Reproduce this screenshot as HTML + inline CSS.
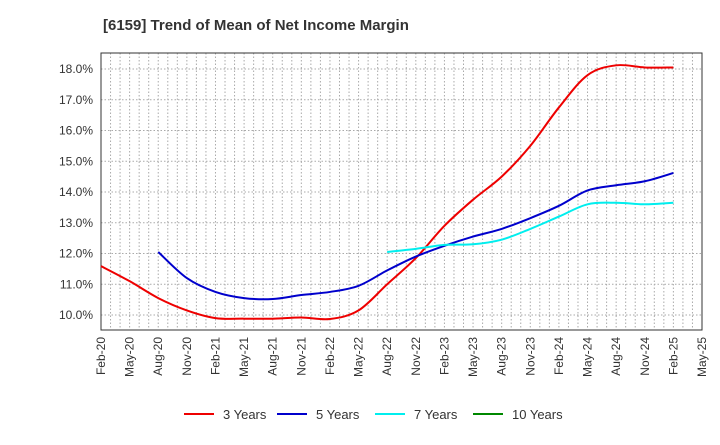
<!DOCTYPE html>
<html><head><meta charset="utf-8"><style>
body{margin:0;background:#fff;font-family:"Liberation Sans",sans-serif}
svg text{font-family:"Liberation Sans",sans-serif}
</style></head><body>
<svg id="c" width="720" height="440"></svg>
<script>
const xLabels=["Feb-20","May-20","Aug-20","Nov-20","Feb-21","May-21","Aug-21","Nov-21","Feb-22","May-22","Aug-22","Nov-22","Feb-23","May-23","Aug-23","Nov-23","Feb-24","May-24","Aug-24","Nov-24","Feb-25","May-25"];
const yTicks=[10,11,12,13,14,15,16,17,18];
const s3=[11.59,11.1,10.55,10.15,9.9,9.88,9.88,9.92,9.87,10.15,11.0,11.85,12.9,13.75,14.5,15.5,16.75,17.8,18.12,18.05,18.05];
const s5=[null,null,12.05,11.2,10.75,10.55,10.52,10.65,10.75,10.95,11.45,11.9,12.25,12.55,12.8,13.15,13.55,14.05,14.22,14.35,14.62];
const s7=[null,null,null,null,null,null,null,null,null,null,12.05,12.15,12.28,12.3,12.45,12.8,13.2,13.6,13.65,13.6,13.65];
const s10=[];
const L=101,R=702,T=53,B=330;
const X=i=>L+i*(R-L)/21;
const Y=v=>69+(18-v)*30.75;
const svg=document.getElementById('c');
const NS='http://www.w3.org/2000/svg';
function mk(t,a,p){const e=document.createElementNS(NS,t);for(const k in a)e.setAttribute(k,a[k]);(p||svg).appendChild(e);return e;}
let t=mk('text',{x:103,y:30,'font-size':15,'font-weight':'bold',fill:'#333'});


t.textContent='[6159]  Trend of Mean of Net Income Margin';
for(let m=0;m<=63;m++){const x=L+m*(R-L)/63;
const g=mk('line',{x1:x,x2:x,y1:T,y2:B,stroke:'#aaa','stroke-dasharray':'1.5,2','stroke-width':1});

}
yTicks.forEach(v=>{const g=mk('line',{x1:L,x2:R,y1:Y(v),y2:Y(v),stroke:'#aaa','stroke-dasharray':'1.5,2'});


const tx=mk('text',{x:93,y:Y(v)+4,'text-anchor':'end','font-size':12,fill:'#333'});


tx.textContent=v.toFixed(1)+'%';});
xLabels.forEach((s,i)=>{const tx=mk('text',{transform:`translate(${X(i)+4},337) rotate(-90)`,'text-anchor':'end','font-size':12,fill:'#333'});


tx.textContent=s;});
const fr=mk('rect',{x:L,y:T,width:R-L,height:B-T,fill:'none',stroke:'#333'});


function path(arr){const p=[];arr.forEach((v,i)=>{if(v!=null)p.push([X(i),Y(v)]);});if(p.length<2)return '';
let d=`M${p[0][0]},${p[0][1]}`;for(let i=0;i<p.length-1;i++){const p0=p[i-1]||p[i],p1=p[i],p2=p[i+1],p3=p[i+2]||p2;
d+=` C${p1[0]+(p2[0]-p0[0])/6},${p1[1]+(p2[1]-p0[1])/6} ${p2[0]-(p3[0]-p1[0])/6},${p2[1]-(p3[1]-p1[1])/6} ${p2[0]},${p2[1]}`;}return d;}
const series=[[s3,'#e00','3 Years','line-3-years'],[s5,'#00c','5 Years','line-5-years'],[s7,'#0ee','7 Years','line-7-years'],[s10,'#080','10 Years','line-10-years']];
series.forEach(([a,c,n,id],k)=>{const d=path(a);if(d){const e=mk('path',{d:d,fill:'none',stroke:c,'stroke-width':2});

}
const lx=[184,277,375,473][k];
const g=mk('g',{});


mk('line',{x1:lx,x2:lx+30,y1:414,y2:414,stroke:c,'stroke-width':2},g);
const tx=mk('text',{x:lx+39,y:419,'font-size':13,fill:'#333'},g);tx.textContent=n;});
</script>
</body></html>
